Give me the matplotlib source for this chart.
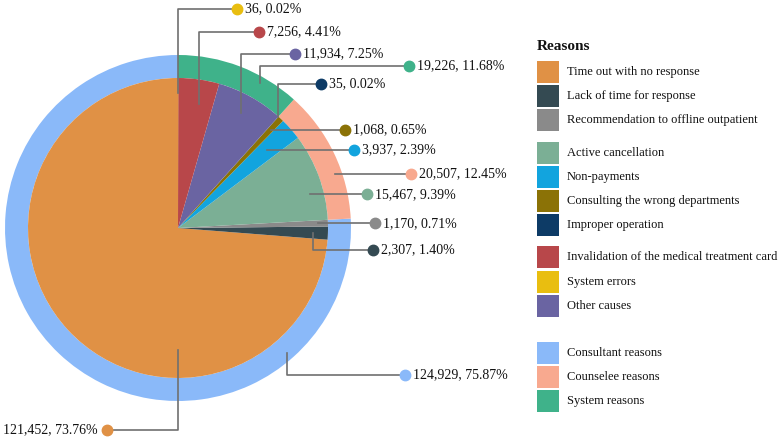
import numpy as np
import matplotlib
matplotlib.use('Agg')
import matplotlib.pyplot as plt
from matplotlib.patches import Rectangle

plt.rcParams['font.family'] = ['Liberation Serif', 'DejaVu Serif']

# inner pie, in drawing order (counter-clockwise from 12 o'clock)
inner_labels = ['Time out with no response', 'Lack of time for response',
                'Recommendation to offline outpatient', 'Active cancellation',
                'Non-payments', 'Consulting the wrong departments',
                'Improper operation', 'Other causes',
                'Invalidation of the medical treatment card', 'System errors']
inner_values = [121452, 2307, 1170, 15467, 3937, 1068, 35, 11934, 7256, 36]

# outer ring
outer_labels = ['Consultant reasons', 'Counselee reasons', 'System reasons']
outer_values = [124929, 20507, 19226]

colors = {
    'Time out with no response': '#E09145',
    'Lack of time for response': '#344A52',
    'Recommendation to offline outpatient': '#8A8A8A',
    'Active cancellation': '#7BAF95',
    'Non-payments': '#12A4DE',
    'Consulting the wrong departments': '#8B7206',
    'Improper operation': '#0D3B66',
    'Invalidation of the medical treatment card': '#B8474A',
    'System errors': '#E9BE10',
    'Other causes': '#6A64A2',
    'Consultant reasons': '#8AB9F9',
    'Counselee reasons': '#F8A98F',
    'System reasons': '#3FB28A',
}

legend_groups = [
    ['Time out with no response', 'Lack of time for response',
     'Recommendation to offline outpatient'],
    ['Active cancellation', 'Non-payments', 'Consulting the wrong departments',
     'Improper operation'],
    ['Invalidation of the medical treatment card', 'System errors', 'Other causes'],
    ['Consultant reasons', 'Counselee reasons', 'System reasons'],
]

# callout layout: (position inside wedge 0-1, radius, label row y from top or None, dot x)
callouts = {
    'Time out with no response': (0.678, 122, 430, 107),
    'Lack of time for response': (0.5, 135, 250, 373),
    'Recommendation to offline outpatient': (0.5, 140, None, 375),
    'Active cancellation': (0.33, 136, None, 367),
    'Non-payments': (0.5, 119, None, 354),
    'Consulting the wrong departments': (0.5, 135, None, 345),
    'Improper operation': (0.5, 149, 84, 321),
    'Other causes': (0.5, 131, 54, 295),
    'Invalidation of the medical treatment card': (0.4, 126, 32, 259),
    'System errors': (0.5, 135, 9, 237),
    'Consultant reasons': (0.809, 166, 375, 405),
    'Counselee reasons': (0.354, 166, None, 411),
    'System reasons': (0.298, 167, 66, 409),
}

total = sum(outer_values)
W, H = 778, 441
cx, cy = 178, H - 228

fig = plt.figure(figsize=(W / 100, H / 100), dpi=100)
ax = fig.add_axes([0, 0, 1, 1])

wo, _ = ax.pie(outer_values, radius=173, center=(cx, cy), startangle=90,
               colors=[colors[n] for n in outer_labels],
               wedgeprops=dict(width=23, linewidth=0))
wi, _ = ax.pie(inner_values, radius=150, center=(cx, cy), startangle=90,
               colors=[colors[n] for n in inner_labels],
               wedgeprops=dict(linewidth=0))
ax.set_xlim(0, W)
ax.set_ylim(0, H)
ax.set_aspect('equal')
ax.axis('off')

for wedges, names, vals in [(wi, inner_labels, inner_values), (wo, outer_labels, outer_values)]:
    for w, name, v in zip(wedges, names, vals):
        frac, r, ly, dx = callouts[name]
        th = np.radians(w.theta1 + frac * (w.theta2 - w.theta1))
        ax_ = cx + r * np.cos(th)
        ay_ = cy + r * np.sin(th)
        lyp = ay_ if ly is None else H - ly
        ax.plot([ax_, ax_, dx], [ay_, lyp, lyp], color='#707070', lw=1.2, zorder=3)
        ax.plot(dx, lyp, 'o', ms=7.5, color=colors[name], zorder=4)
        txt = f'{v:,}, {v / total * 100:.2f}%'
        if dx < ax_:
            ax.text(dx - 9, lyp, txt, ha='right', va='center', fontsize=10, color='#111111')
        else:
            ax.text(dx + 8, lyp, txt, ha='left', va='center', fontsize=10, color='#111111')

# legend
ax.text(537, H - 47, 'Reasons', fontsize=11, fontweight='bold', ha='left', va='center', color='#111111')
group_shift = [0, 8, 16, 39]
i = 0
for g, group in enumerate(legend_groups):
    for name in group:
        yc = H - (72 + 24.2 * i + group_shift[g])
        ax.add_patch(Rectangle((537, yc - 11), 22, 22, color=colors[name], lw=0))
        ax.text(567, yc, name, fontsize=9, ha='left', va='center', color='#111111')
        i += 1

fig.savefig('out.png', dpi=100)
